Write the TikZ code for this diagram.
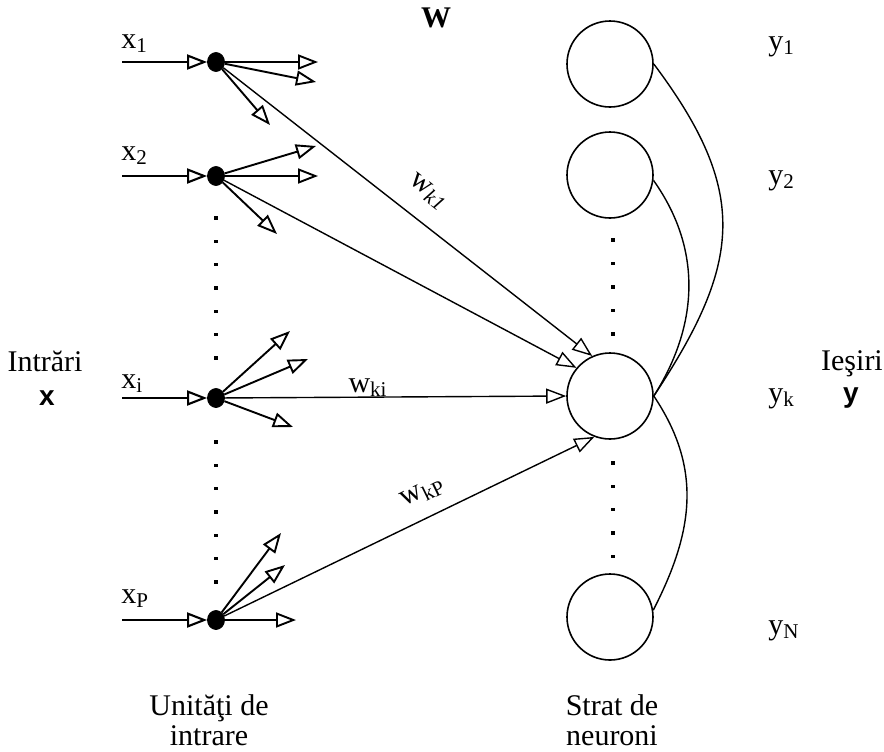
\documentclass[tikz,border=0pt]{standalone}
\usepackage{fontspec}
\setmainfont{Liberation Serif}
\newfontfamily\vecfont{Liberation Sans}
\usetikzlibrary{arrows.meta, shapes.geometric, positioning}
\tikzset{
  >={Triangle[open, length=10pt, width=7.5pt]},
  unit/.style     = {draw, fill=black, ellipse, minimum width=8.5pt,
                     minimum height=9.5pt, inner sep=0pt},
  neuron/.style   = {draw, circle, minimum size=43pt, inner sep=0pt,
                     line width=0.8pt},
  inarrow/.style  = {->, line width=1.05pt},
  fan/.style      = {->, line width=0.95pt},
  weight/.style   = {->, line width=0.7pt},
  feedback/.style = {line width=0.7pt},
  lbl/.style      = {font=\fontsize{15}{15}\selectfont, inner sep=0pt, align=center},
  vec/.style      = {font=\vecfont\bfseries\fontsize{14}{14}\selectfont, inner sep=0pt},
}

\begin{document}
\begin{tikzpicture}[x=0.5pt, y=-0.5pt]
  \useasboundingbox (0,0) rectangle (884,751);

  % input units
  \node[unit] (u1) at (216,62)  {};
  \node[unit] (u2) at (216,176) {};
  \node[unit] (ui) at (216,398) {};
  \node[unit] (uP) at (216,620) {};

  % neuron layer
  \node[neuron] (n1) at (610,64)  {};
  \node[neuron] (n2) at (610,175) {};
  \node[neuron] (nk) at (610,396) {};
  \node[neuron] (nN) at (610,617) {};

  % inputs
  \foreach \u/\y in {u1/62, u2/176, ui/398, uP/620} {
    \coordinate (s\u) at (122,\y);
    \draw[inarrow] (s\u) -- (\u);
  }

  % fan-out stubs
  \foreach \u/\x/\y [count=\n] in {u1/318/62, u1/316/82, u1/270/125,
                                   u2/316/146, u2/318/176, u2/277/234,
                                   ui/290/331, ui/308/359, ui/293/427,
                                   uP/281/533, uP/285/565, uP/296/620} {
    \coordinate (f\n) at (\x,\y);
    \draw[fan] (\u) -- (f\n);
  }

  % weights into neuron k
  \draw[weight] (u1) -- (nk.114);
  \draw[weight] (u2) -- (nk.140);
  \draw[weight] (ui) -- (nk.west);
  \draw[weight] (uP) -- (nk.249);

  % outputs looping round
  \draw[feedback] (n1.east) .. controls +(96,128) and +(88,-133) .. (nk.east);
  \draw[feedback] (n2.-7)   .. controls +(49,69)  and +(45,-71)  .. (nk.east);
  \draw[feedback] (nk.east) .. controls +(49,73)  and +(40,-78)  .. (nN.9);

  % dotted columns
  \foreach \k in {0,...,6} {
    \fill (216-1.6,218+23.33*\k-1.6) rectangle ++(3.2,3.2);
    \fill (216-1.6,442+23.33*\k-1.6) rectangle ++(3.2,3.2);
  }
  \foreach \k in {0,...,4} {
    \fill (613-1.6,240+23.5*\k-1.6) rectangle ++(3.2,3.2);
    \fill (613-1.6,463+23.3*\k-1.6) rectangle ++(3.2,3.2);
  }

  % labels
  \node[lbl, anchor=base west] (lx1) at (121,48)  {x\textsubscript{1}};
  \node[lbl, anchor=base west] (lx2) at (121,160) {x\textsubscript{2}};
  \node[lbl, anchor=base west] (lxi) at (121,388) {x\textsubscript{i}};
  \node[lbl, anchor=base west] (lxP) at (121,603) {x\textsubscript{P}};

  \node[lbl, anchor=base west] (ly1) at (768,50)  {y\textsubscript{1}};
  \node[lbl, anchor=base west] (ly2) at (768,184) {y\textsubscript{2}};
  \node[lbl, anchor=base west] (lyk) at (768,402) {y\textsubscript{k}};
  \node[lbl, anchor=base west] (lyN) at (768,634) {y\textsubscript{N}};

  \node[lbl, font=\bfseries\fontsize{15}{15}\selectfont, anchor=base] (W) at (436,27) {W};
  \node[lbl, rotate=-38] (wk1) at (428,192) {w\textsubscript{\itshape k1}};
  \node[lbl, anchor=base] (wki) at (368,392) {w\textsubscript{ki}};
  \node[lbl, rotate=26] (wkP) at (423,493) {w\textsubscript{kP}};

  \node[lbl, anchor=base] (in)  at (45,371)  {Intrări};
  \node[vec, anchor=base] (vx)  at (47,405)  {x};
  \node[lbl, anchor=base] (out) at (852,370) {Ieşiri};
  \node[vec, anchor=base] (vy)  at (851,402) {y};

  \node[lbl, anchor=base] (units)  at (209,715) {Unităţi de};
  \node[lbl, anchor=base] (units2) at (209,745) {intrare};
  \node[lbl, anchor=base] (layer)  at (612,715) {Strat de};
  \node[lbl, anchor=base] (layer2) at (612,745) {neuroni};

\end{tikzpicture}
\end{document}
